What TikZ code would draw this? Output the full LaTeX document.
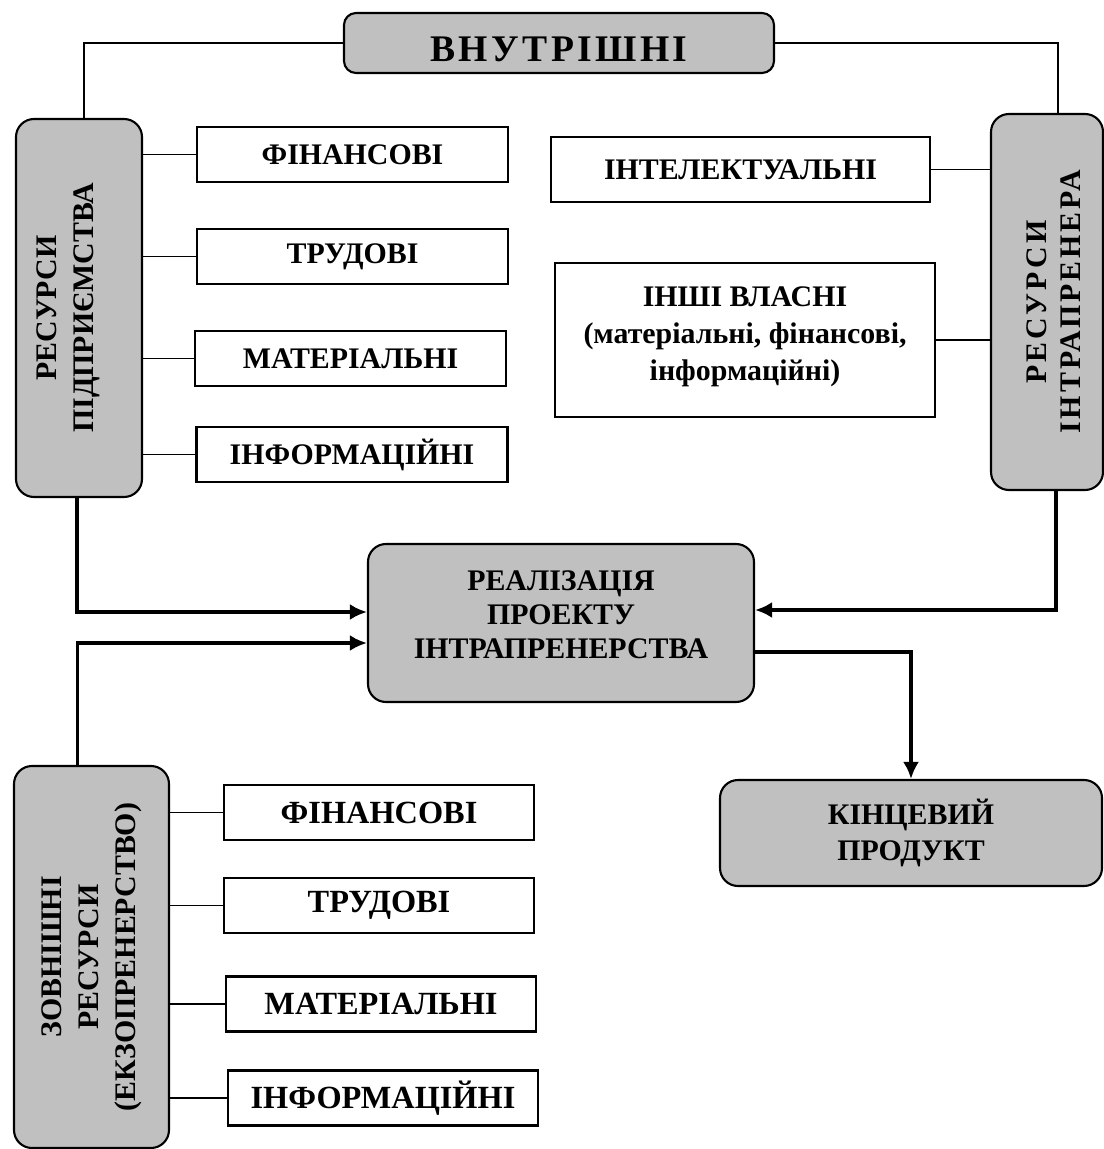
\documentclass[tikz,border=0pt]{standalone}
\usepackage{fontspec}
\setmainfont{Liberation Serif}
\usetikzlibrary{arrows.meta}
\definecolor{boxgrey}{RGB}{192,192,192}
\newcommand{\vtext}[2][0mm]{\rotatebox{90}{\begin{tabular}{@{}c@{}}#2\end{tabular}}\hspace{#1}}
\newcommand{\spaced}[1]{{\addfontfeatures{LetterSpace=10}#1}}
\tikzset{
	greybox/.style={draw, line width=0.6pt, fill=boxgrey, rounded corners=1.8mm,
		inner sep=0pt, align=center, font=\fontsize{8.5}{10.5}\selectfont\bfseries},
	whitebox/.style={draw, line width=0.6pt, inner sep=0pt, align=center,
		font=\fontsize{8.5}{10.5}\selectfont\bfseries},
	bigtext/.style={font=\fontsize{9.2}{11}\selectfont\bfseries},
	link/.style={line width=0.4pt},
	flow/.style={line width=1pt, -{Latex[length=1.7mm,width=1.6mm]}}
}

\begin{document}
\begin{tikzpicture}
	\useasboundingbox (0,0) rectangle (11.04,-11.49);
	\node [ greybox, minimum width=4.30cm, minimum height=0.60cm, rounded corners=1.2mm,
		text height=0.37cm, text depth=0cm,
		font=\fontsize{10.7}{12}\selectfont\bfseries ] (0) at (5.59,-0.43)
		{\addfontfeatures{LetterSpace=9}ВНУТРІШНІ};
	\node [ greybox, minimum width=1.26cm, minimum height=3.78cm ] (1) at (0.79,-3.08)
		{\vtext[2.2mm]{РЕСУРСИ\\ПІДПРИЄМСТВА}};
	\node [ greybox, minimum width=1.12cm, minimum height=3.76cm,
		font=\fontsize{8.5}{9.7}\selectfont\bfseries ] (2) at (10.47,-3.02)
		{\vtext[-2mm]{\spaced{РЕСУРСИ}\\\spaced{ІНТРАПРЕНЕРА}}};
	\node [ whitebox, minimum width=3.11cm, minimum height=0.55cm ] (3) at (3.525,-1.545)
		{ФІНАНСОВІ};
	\node [ whitebox, minimum width=3.11cm, minimum height=0.55cm ] (4) at (3.525,-2.565)
		{ТРУДОВІ};
	\node [ whitebox, minimum width=3.11cm, minimum height=0.55cm ] (5) at (3.505,-3.585)
		{МАТЕРІАЛЬНІ};
	\node [ whitebox, minimum width=3.11cm, minimum height=0.55cm ] (6) at (3.52,-4.545)
		{ІНФОРМАЦІЙНІ};
	\node [ whitebox, minimum width=3.79cm, minimum height=0.65cm ] (7) at (7.405,-1.695)
		{ІНТЕЛЕКТУАЛЬНІ};
	\node [ whitebox, minimum width=3.80cm, minimum height=1.54cm,
		text depth=0.12cm ] (8) at (7.45,-3.40)
		{ІНШІ ВЛАСНІ\\(матеріальні, фінансові,\\інформаційні)};
	\node [ greybox, minimum width=3.86cm, minimum height=1.58cm, text depth=0.16cm,
		font=\fontsize{8.5}{9.7}\selectfont\bfseries ] (9) at (5.61,-6.23)
		{РЕАЛІЗАЦІЯ\\ПРОЕКТУ\\ІНТРАПРЕНЕРСТВА};
	\node [ greybox, minimum width=3.82cm, minimum height=1.06cm ] (10) at (9.11,-8.33)
		{КІНЦЕВИЙ\\ПРОДУКТ};
	\node [ greybox, minimum width=1.55cm, minimum height=3.82cm ] (11) at (0.915,-9.57)
		{\vtext{ЗОВНІШНІ\\РЕСУРСИ\\(ЕКЗОПРЕНЕРСТВО)}};
	\node [ whitebox, bigtext, minimum width=3.10cm, minimum height=0.55cm ] (12) at (3.79,-8.125)
		{ФІНАНСОВІ};
	\node [ whitebox, bigtext, minimum width=3.10cm, minimum height=0.55cm ] (13) at (3.79,-9.055)
		{ТРУДОВІ};
	\node [ whitebox, bigtext, minimum width=3.10cm, minimum height=0.55cm ] (14) at (3.81,-10.04)
		{МАТЕРІАЛЬНІ};
	\node [ whitebox, bigtext, minimum width=3.10cm, minimum height=0.55cm ] (15) at (3.83,-10.98)
		{ІНФОРМАЦІЙНІ};
	% thin links
	\draw [ link ] (0.west) -| ([xshift=0.5mm]1.north);
	\draw [ link ] (0.east) -| ([xshift=1.1mm]2.north);
	\draw [ link ] (3.west) -- (3.west -| 1.east);
	\draw [ link ] (4.west) -- (4.west -| 1.east);
	\draw [ link ] (5.west) -- (5.west -| 1.east);
	\draw [ link ] (6.west) -- (6.west -| 1.east);
	\draw [ link ] (7.east) -- (7.east -| 2.west);
	\draw [ link ] (8.east) -- (8.east -| 2.west);
	\draw [ link ] (12.west) -- (12.west -| 11.east);
	\draw [ link ] (13.west) -- (13.west -| 11.east);
	\draw [ link ] (14.west) -- (14.west -| 11.east);
	\draw [ link ] (15.west) -- (15.west -| 11.east);
	% arrows
	\draw [ flow ] ([xshift=-0.2mm]1.south) |- ([yshift=1.1mm]9.west);
	\draw [ flow ] ([xshift=-1.4mm]11.north) |- ([yshift=-2mm]9.west);
	\draw [ flow ] ([xshift=0.9mm]2.south) |- ([yshift=1.3mm]9.east);
	\draw [ flow ] ([yshift=-2.9mm]9.east) -| (10.north);
\end{tikzpicture}
\end{document}
